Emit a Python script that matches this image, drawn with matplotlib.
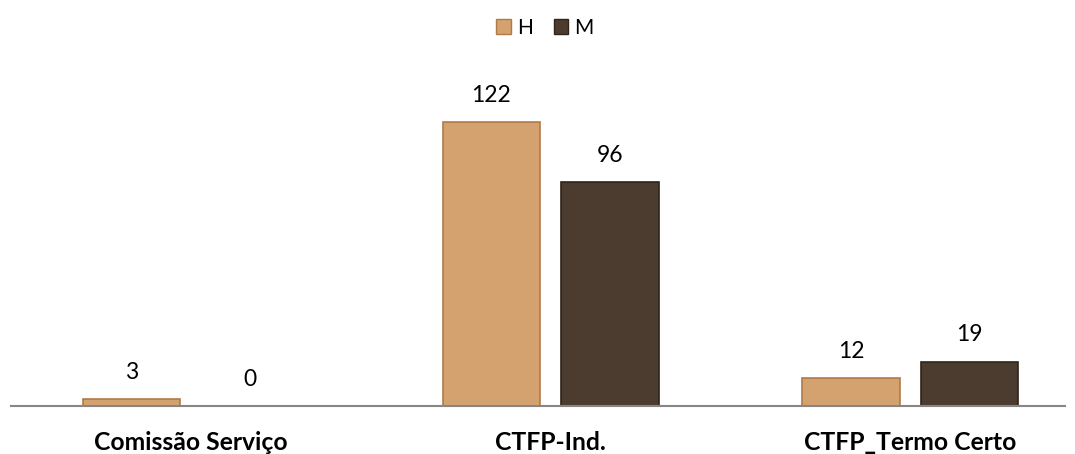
import numpy as np
import matplotlib.pyplot as plt
from matplotlib.patches import Patch

plt.rcParams['font.family'] = ['Lato', 'DejaVu Sans']

categorias = ['Comissão Serviço', 'CTFP-Ind.', 'CTFP_Termo Certo']
h_vals = [3, 122, 12]
m_vals = [0, 96, 19]

cor_h = '#D4A26F'
cor_m = '#4B3C2F'

fig = plt.figure(figsize=(10.75, 4.54), dpi=100)
ax = fig.add_axes([11/1075, 48/454, 1054/1075, 326/454])

x = np.arange(len(categorias))
w = 0.27
off = 0.165
b1 = ax.bar(x - off, h_vals, w, color=cor_h, edgecolor='#B07A48', linewidth=1.2)
b2 = ax.bar(x + off, m_vals, w, color=cor_m, edgecolor='#2E241B', linewidth=1.2)

# rótulos de valor por cima das barras
for bars, vals in ((b1, h_vals), (b2, m_vals)):
    for b, v in zip(bars, vals):
        ax.text(b.get_x() + b.get_width()/2, v + 7, str(v), ha='center', va='bottom', fontsize=16.5)

ax.set_xlim(-0.5, 2.43)
ax.set_ylim(0, 140)
ax.set_xticks(x)
ax.set_xticklabels(categorias, fontsize=17.8, fontweight='bold')
ax.tick_params(axis='x', length=0, pad=18)
ax.set_yticks([])
for s in ['top', 'right', 'left']:
    ax.spines[s].set_visible(False)
ax.spines['bottom'].set_color('#868686')
ax.spines['bottom'].set_linewidth(1.5)

handles = [Patch(facecolor=cor_h, edgecolor='#B07A48', label='H'),
           Patch(facecolor=cor_m, edgecolor='#2E241B', label='M')]
fig.legend(handles=handles, loc='center', bbox_to_anchor=(545/1075, 1 - 28/454), ncol=2,
           frameon=False, fontsize=15, handlelength=0.7, handleheight=0.7,
           handletextpad=0.3, columnspacing=1.0)

fig.savefig('out.png', dpi=100)
